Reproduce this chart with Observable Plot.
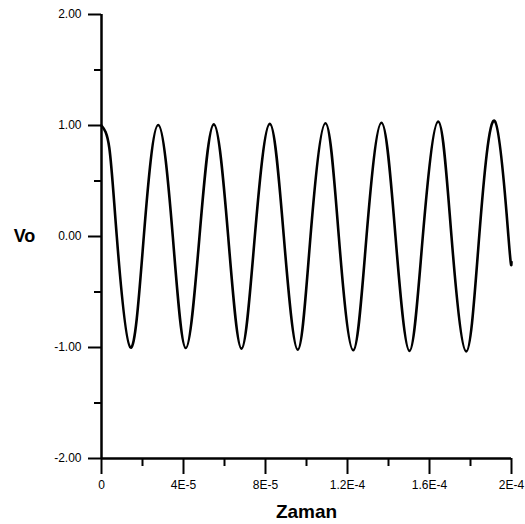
<!DOCTYPE html>
<html>
<head>
<meta charset="utf-8">
<script src="https://cdn.jsdelivr.net/npm/d3@7"></script>
<script src="https://cdn.jsdelivr.net/npm/@observablehq/plot@0.6"></script>
<style>
  html, body { margin: 0; padding: 0; background: #fff; }
</style>
</head>
<body>
<div id="chart"></div>
<script>
// Time values in units of 1E-5 s
const peakT   = [0, 2.766, 5.478, 8.210, 10.927, 13.659, 16.425, 19.185];
const peakV   = [1.00, 1.005, 1.01, 1.015, 1.02, 1.025, 1.035, 1.04];
const troughT = [1.415, 4.112, 6.829, 9.576, 12.278, 15.024, 17.790];
const troughV = [-1.00, -1.005, -1.01, -1.02, -1.025, -1.03, -1.035];
const zeroT   = [0.746, 2.063, 3.478, 4.780, 6.180, 7.478, 8.893, 10.195,
                 11.576, 12.927, 14.341, 15.673, 17.073, 18.424, 19.85];
const startT = [0.38];
const startV = [0.80];
const endT = [20.0];
const endV = [-0.23];

const xTicks = [0, 4, 8, 12, 16, 20];
const xTickLabels = ["0", "4E-5", "8E-5", "1.2E-4", "1.6E-4", "2E-4"];
const xMinor = [2, 6, 10, 14, 18];
const yTicks = [-2, -1, 0, 1, 2];
const yTickLabels = ["-2.00", "-1.00", "0.00", "1.00", "2.00"];
const yMinor = [-1.5, -0.5, 0.5, 1.5];

const points = [
  ...peakT.map((t, i) => ({t, v: peakV[i]})),
  ...troughT.map((t, i) => ({t, v: troughV[i]})),
  ...zeroT.map(t => ({t, v: 0})),
  ...startT.map((t, i) => ({t, v: startV[i]})),
  ...endT.map((t, i) => ({t, v: endV[i]}))
].sort((a, b) => a.t - b.t);

const chart = Plot.plot({
  width: 525,
  height: 524,
  marginLeft: 101,
  marginRight: 14,
  marginTop: 14,
  marginBottom: 66,
  style: {fontFamily: "'Liberation Sans', Arial, sans-serif", fontSize: "12px", color: "#000", background: "#fff"},
  x: {domain: [0, 20]},
  y: {domain: [-2, 2]},
  marks: [
    Plot.axisY({ticks: yTicks, tickSize: 13, tickPadding: 7, strokeWidth: 2,
      tickFormat: d => yTickLabels[yTicks.indexOf(d)], label: null, fontSize: 12}),
    Plot.axisY({ticks: yMinor, tickSize: 7, strokeWidth: 2, tickFormat: null, text: null, label: null}),
    Plot.axisX({ticks: xTicks, tickSize: 16, tickPadding: 6, strokeWidth: 2,
      tickFormat: d => xTickLabels[xTicks.indexOf(d)], label: null, fontSize: 12}),
    Plot.axisX({ticks: xMinor, tickSize: 8, strokeWidth: 2, tickFormat: null, text: null, label: null}),
    Plot.ruleX([0], {y1: -2, y2: 2, strokeWidth: 2.5}),
    Plot.ruleY([-2], {x1: 0, x2: 20, strokeWidth: 2.5}),
    Plot.line(points, {x: "t", y: "v", curve: "natural", stroke: "#000", strokeWidth: 2.6}),
    Plot.text(["Vo"], {frameAnchor: "left", dx: -77, dy: 0, fontSize: 18, fontWeight: "bold", textAnchor: "middle"}),
    Plot.text(["Zaman"], {frameAnchor: "bottom", dy: 53, fontSize: 19, fontWeight: "bold", textAnchor: "middle", lineAnchor: "middle"})
  ]
});
document.getElementById("chart").appendChild(chart);
</script>
</body>
</html>
